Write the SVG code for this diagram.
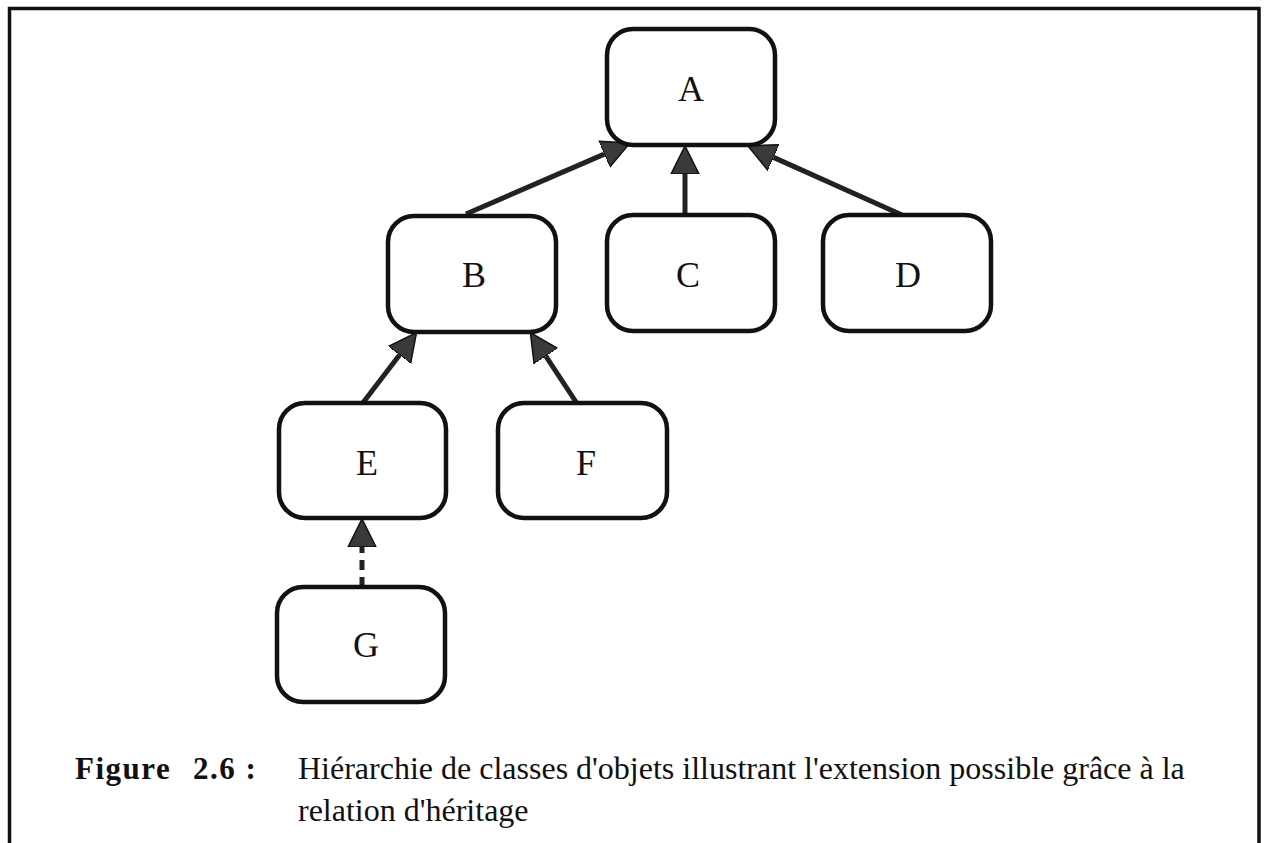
<svg xmlns="http://www.w3.org/2000/svg" width="1269" height="843" viewBox="0 0 1269 843">
  <style>
    .node rect { fill: #ffffff; stroke: #111111; stroke-width: 4.5; }
    .node text { font-family: "Liberation Serif", "Times New Roman", serif; font-size: 36px; fill: #111111; text-anchor: middle; }
    .conn { stroke: #222222; stroke-width: 5; fill: none; }
    .dashed { stroke-dasharray: 10 7; }
    .frame { stroke: #111111; stroke-width: 3.5; fill: none; }
    .cap { font-family: "Liberation Serif", "Times New Roman", serif; font-size: 32px; fill: #111111; }
    .capb { font-weight: bold; font-size: 31px; letter-spacing: 1.5px; }
  </style>
  <defs>
    <marker id="arr" markerUnits="userSpaceOnUse" markerWidth="30" markerHeight="30" refX="0" refY="14" orient="auto" viewBox="0 0 30 28">
      <path d="M0,0 L28,14 L0,28 Z" fill="#3a3a3a" stroke="#111111" stroke-width="1.5"/>
    </marker>
  </defs>
  <rect x="0" y="0" width="1269" height="843" fill="#ffffff"/>
  <path class="frame" d="M9.5,850 L9.5,8.5 L1259,8.5 L1259,850"/>

  <g id="connectors">
    <line class="conn" x1="466" y1="214" x2="604.3" y2="154.1" marker-end="url(#arr)"/>
    <line class="conn" x1="685" y1="217" x2="685" y2="174" marker-end="url(#arr)"/>
    <line class="conn" x1="902" y1="215" x2="773.5" y2="157.4" marker-end="url(#arr)"/>
    <line class="conn" x1="362" y1="404" x2="399.5" y2="354.9" marker-end="url(#arr)"/>
    <line class="conn" x1="578" y1="405" x2="545.8" y2="356.1" marker-end="url(#arr)"/>
    <line class="conn dashed" x1="362" y1="587" x2="362" y2="547" marker-end="url(#arr)"/>
  </g>

  <g id="node-A" class="node">
    <rect x="607" y="29" width="168" height="116" rx="26"/>
    <text x="691" y="101">A</text>
  </g>
  <g id="node-B" class="node">
    <rect x="388" y="216" width="168" height="116" rx="26"/>
    <text x="474" y="287">B</text>
  </g>
  <g id="node-C" class="node">
    <rect x="607" y="215" width="168" height="116" rx="26"/>
    <text x="688" y="287">C</text>
  </g>
  <g id="node-D" class="node">
    <rect x="823" y="215" width="168" height="116" rx="26"/>
    <text x="908" y="287">D</text>
  </g>
  <g id="node-E" class="node">
    <rect x="279" y="403" width="167" height="115" rx="26"/>
    <text x="367" y="475">E</text>
  </g>
  <g id="node-F" class="node">
    <rect x="498" y="403" width="169" height="115" rx="26"/>
    <text x="586" y="475">F</text>
  </g>
  <g id="node-G" class="node">
    <rect x="277" y="587" width="168" height="115" rx="26"/>
    <text x="366" y="657">G</text>
  </g>

  <g id="caption">
    <text class="cap capb" x="75" y="779">Figure</text>
    <text class="cap capb" x="193" y="779">2.6 :</text>
    <text class="cap" x="298" y="779">Hiérarchie de classes d'objets illustrant l'extension possible grâce à la</text>
    <text class="cap" x="298" y="821">relation d'héritage</text>
  </g>
</svg>
